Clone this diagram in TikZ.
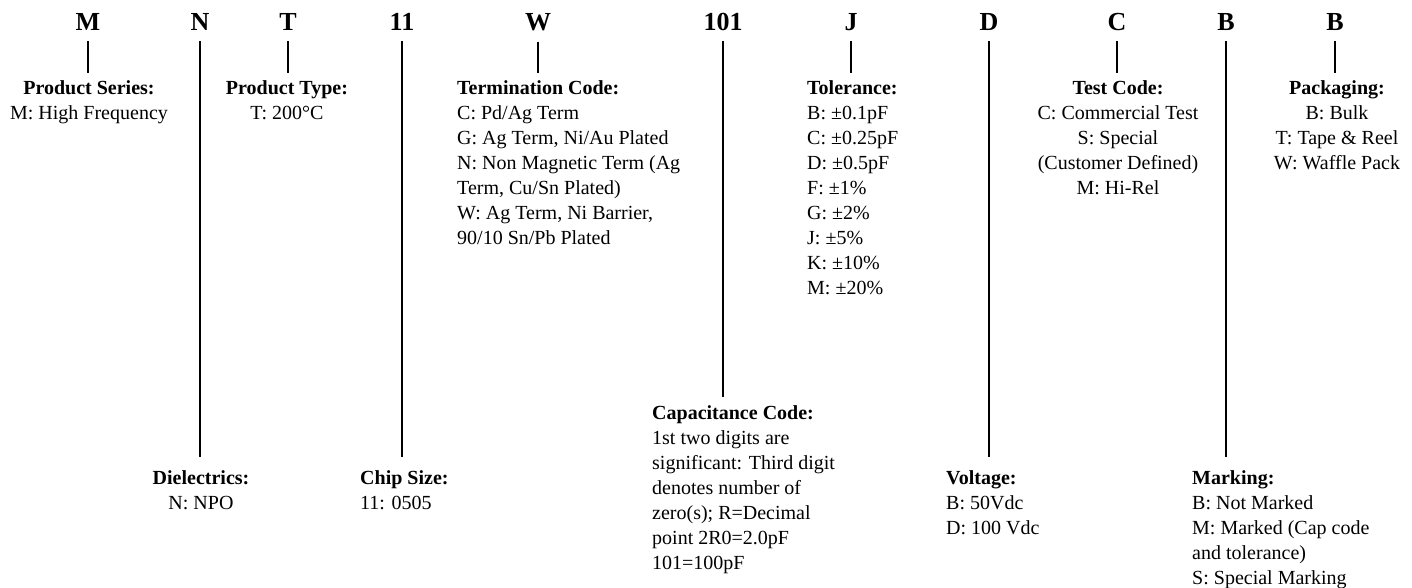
\documentclass[tikz,border=0pt]{standalone}
\usepackage{fontspec}
\setmainfont{Liberation Serif}

\begin{document}
\begin{tikzpicture}[x=1pt,y=-1pt,
    code/.style={font=\fontsize{26}{30}\selectfont\bfseries, anchor=base, inner sep=0pt},
    lbl/.style={font=\fontsize{20}{25}\selectfont, inner sep=0pt, align=center, anchor=north},
    lbll/.style={lbl, align=left, anchor=north west},
    link/.style={line width=1.8pt, shorten <=10pt}]
        \useasboundingbox (0,0) rectangle (1412,588);
        % part number
        \node[code] (cM) at (88,31) {M};
        \node[code] (cN) at (200,31) {N};
        \node[code] (cT) at (288,31) {T};
        \node[code] (cS) at (402,31) {11};
        \node[code] (cW) at (538,31) {W};
        \node[code] (cC) at (723,31) {101};
        \node[code] (cJ) at (851,31) {J};
        \node[code] (cD) at (989,31) {D};
        \node[code] (cTC) at (1117,31) {C};
        \node[code] (cMk) at (1226,31) {B};
        \node[code] (cP) at (1335,31) {B};
        % upper labels
        \node[lbl] (lSeries) at (89,80) {\textbf{Product Series:}\\M: High Frequency};
        \node[lbl] (lType) at (287,80) {\textbf{Product Type:}\\T: 200°C};
        \node[lbll] (lTerm) at (457,80) {\textbf{Termination Code:}\\C: Pd/Ag Term\\G: Ag Term, Ni/Au Plated\\N: Non Magnetic Term (Ag\\Term, Cu/Sn Plated)\\W: Ag Term, Ni Barrier,\\90/10 Sn/Pb Plated};
        \node[lbll] (lTol) at (807,80) {\textbf{Tolerance:}\\B: ±0.1pF\\C: ±0.25pF\\D: ±0.5pF\\F: ±1\%\\G: ±2\%\\J: ±5\%\\K: ±10\%\\M: ±20\%};
        \node[lbl] (lTest) at (1118,80) {\textbf{Test Code:}\\C: Commercial Test\\S: Special\\(Customer Defined)\\M: Hi-Rel};
        \node[lbl] (lPack) at (1337,80) {\textbf{Packaging:}\\B: Bulk\\T: Tape \& Reel\\W: Waffle Pack};
        % lower labels
        \node[lbll] (lCap) at (652,405) {\textbf{Capacitance Code:}\\1st two digits are\\significant: Third digit\\denotes number of\\zero(s); R=Decimal\\point 2R0=2.0pF\\101=100pF};
        \node[lbl] (lDiel) at (201,470) {\textbf{Dielectrics:}\\N: NPO};
        \node[lbll] (lSize) at (360,470) {\textbf{Chip Size:}\\11: 0505};
        \node[lbll] (lVolt) at (946,470) {\textbf{Voltage:}\\B: 50Vdc\\D: 100 Vdc};
        \node[lbll] (lMark) at (1192,470) {\textbf{Marking:}\\B: Not Marked\\M: Marked (Cap code\\and tolerance)\\S: Special Marking};
        % connectors
        \draw[link, shorten >=7pt] (cM.south) -- (cM.south |- lSeries.north);
        \draw[link, shorten >=7pt] (cT.south) -- (cT.south |- lType.north);
        \draw[link, shorten >=7pt] (cW.south) -- (cW.south |- lTerm.north);
        \draw[link, shorten >=7pt] (cJ.south) -- (cJ.south |- lTol.north);
        \draw[link, shorten >=7pt] (cTC.south) -- (cTC.south |- lTest.north);
        \draw[link, shorten >=7pt] (cP.south) -- (cP.south |- lPack.north);
        \draw[link, shorten >=8pt] (cC.south) -- (cC.south |- lCap.north);
        \draw[link, shorten >=13pt] (cN.south) -- (cN.south |- lDiel.north);
        \draw[link, shorten >=13pt] (cS.south) -- (cS.south |- lSize.north);
        \draw[link, shorten >=13pt] (cD.south) -- (cD.south |- lVolt.north);
        \draw[link, shorten >=13pt] (cMk.south) -- (cMk.south |- lMark.north);
      \end{tikzpicture}
\end{document}
